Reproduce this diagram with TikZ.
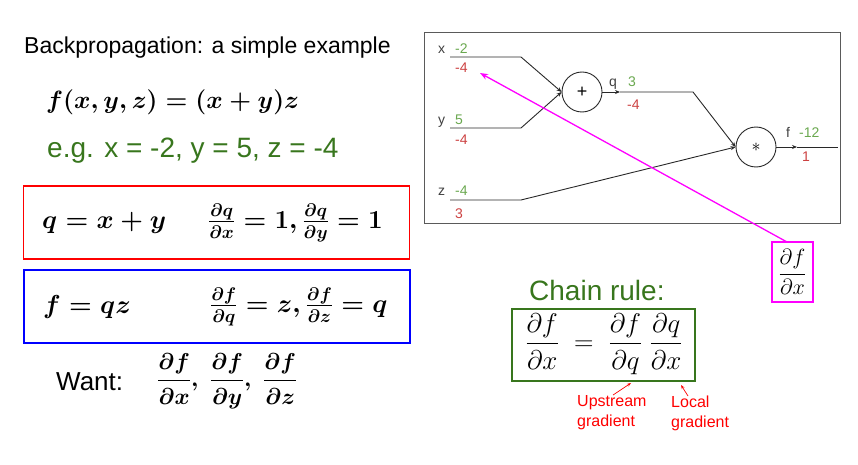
\RequirePackage{fix-cm}
\documentclass[tikz,border=0pt]{standalone}
\usepackage{amsmath}
\usepackage{fontspec}
\newfontfamily\arial{Liberation Sans}
\usetikzlibrary{arrows.meta}
\definecolor{dgreen}{RGB}{56,118,29}
\definecolor{gval}{RGB}{106,168,79}
\definecolor{rval}{RGB}{204,65,65}
\definecolor{wirec}{RGB}{40,40,40}
\definecolor{boxgray}{RGB}{90,90,90}
\definecolor{mag}{RGB}{255,0,255}
\begin{document}
\begin{tikzpicture}[x=1pt,y=-1pt,
  lbl/.style={font=\arial\fontsize{14}{14}\selectfont, inner sep=0pt, anchor=base west},
  glbl/.style={lbl, text=gval},
  rlbl/.style={lbl, text=rval},
  wire/.style={draw=wirec, line width=0.9pt},
  wtip/.style={wire, -{Stealth[length=5pt,width=4pt]}},
  opnode/.style={circle, draw=wirec, line width=0.9pt, minimum size=40pt, inner sep=0pt, font=\arial\fontsize{18}{18}\selectfont},
  eqbox/.style={draw, line width=1.4pt, minimum width=386pt, minimum height=73pt, inner sep=0pt},
  mathtxt/.style={inner sep=0pt, anchor=west, font=\fontsize{26}{30}\selectfont\boldmath},
  sans/.style={inner sep=0pt, anchor=west},
  redlbl/.style={inner sep=0pt, anchor=west, align=left, text=red, font=\arial\fontsize{16}{20}\selectfont},
  redarr/.style={draw=red, line width=0.7pt, -{Stealth[length=4pt,width=3pt]}}
]
\useasboundingbox (0,0) rectangle (858,465);

% ---------- left column ----------
\node[sans, font=\arial\fontsize{23}{26}\selectfont] (title) at (24,48) {Backpropagation: a simple example};
\node[mathtxt, font=\fontsize{25}{30}\selectfont\boldmath] (func) at (46,102) {$f(x,y,z)=(x+y)z$};
\node[sans, text=dgreen, font=\arial\fontsize{28}{32}\selectfont] (eg) at (47,151) {e.g. x = -2, y = 5, z = -4};

\node[eqbox, draw=red] (redbox) at (216.5,222.5) {};
\node[mathtxt] (qdef) at (42,223) {$q=x+y$};
\node[mathtxt] (qder) at (208,223) {$\frac{\partial q}{\partial x}=1,\frac{\partial q}{\partial y}=1$};

\node[eqbox, draw=blue] (bluebox) at (217,306.5) {};
\node[mathtxt] (fdef) at (43,307) {$f=qz$};
\node[mathtxt] (fder) at (210,307) {$\frac{\partial f}{\partial q}=z,\frac{\partial f}{\partial z}=q$};

\node[sans, font=\arial\fontsize{26}{30}\selectfont] (want) at (56,382) {Want:};
\node[mathtxt, font=\fontsize{23}{27}\selectfont\boldmath] (wantf) at (157,381) {$\dfrac{\partial f}{\partial x},\;\dfrac{\partial f}{\partial y},\;\dfrac{\partial f}{\partial z}$};

% ---------- graph ----------
\node[draw=boxgray, line width=0.9pt, anchor=north west, minimum width=416pt, minimum height=191pt, inner sep=0pt] (gbox) at (424,32) {};

\node[opnode] (plus) at (582,92) {+};
\node[opnode] (times) at (756,147) {$\ast$};

\coordinate (xs) at (450,57);  \coordinate (xb) at (521,57);
\coordinate (ys) at (450,128); \coordinate (yb) at (521,128);
\coordinate (zs) at (450,200); \coordinate (zb) at (521,200);
\coordinate (qm) at (620,92);  \coordinate (qb) at (693,92);
\coordinate (fm) at (797,147); \coordinate (fe) at (838,147);

\draw[wtip] (xs) -- (xb) -- (plus.west);
\draw[wtip] (ys) -- (yb) -- (plus.west);
\draw[wtip] (zs) -- (zb) -- (times.west);
\draw[wtip] (plus.east) -- (qm);
\draw[wtip] (qm) -- (qb) -- (times.west);
\draw[wtip] (times.east) -- (fm);
\draw[wire] (fm) -- (fe);

\node[lbl, text=black!75] (xn) at (438,54) {x};
\node[glbl] (xv) at (455,54) {-2};
\node[rlbl] (xg) at (455,73) {-4};
\node[lbl, text=black!75] (yn) at (438,125) {y};
\node[glbl] (yv) at (455,125) {5};
\node[rlbl] (yg) at (455,145) {-4};
\node[lbl, text=black!75] (zn) at (438,195) {z};
\node[glbl] (zv) at (455,195) {-4};
\node[rlbl] (zg) at (455,218) {3};
\node[lbl, text=black!75] (qn) at (609,87) {q};
\node[glbl] (qv) at (628,87) {3};
\node[rlbl] (qg) at (627,110) {-4};
\node[lbl, text=black!75] (fn) at (786,138) {f};
\node[glbl] (fv) at (799,138) {-12};
\node[rlbl] (fg) at (802,161) {1};

% ---------- magenta box ----------
\node[draw=mag, line width=1.4pt, minimum width=41pt, minimum height=60pt, inner sep=0pt,
      font=\fontsize{22}{26}\selectfont] (dbox) at (792.5,272) {$\dfrac{\partial f}{\partial x}$};
\coordinate (dtop) at (787,242);
\coordinate (dtip) at (480,73);
\draw[draw=mag, line width=1.3pt, -{Stealth[length=8pt,width=6pt]}] (dtop) -- (dtip);

% ---------- chain rule ----------
\node[sans, text=dgreen, font=\arial\fontsize{28}{32}\selectfont] (chain) at (529,290) {Chain rule:};
\node[draw=dgreen, line width=1.4pt, minimum width=183pt, minimum height=72pt, inner sep=0pt] (gbox2) at (603.5,345) {};
\node[inner sep=0pt, font=\fontsize{27}{31}\selectfont] (chaineq) at (604,344) {$\dfrac{\partial f}{\partial x} \;=\; \dfrac{\partial f}{\partial q}\;\dfrac{\partial q}{\partial x}$};

\node[redlbl] (up) at (577,413) {Upstream\\gradient};
\node[redlbl] (loc) at (671,413) {Local\\gradient};
\coordinate (ua) at (613,395); \coordinate (ub) at (631,383);
\coordinate (la) at (688,396); \coordinate (lb) at (681,385);
\draw[redarr] (ua) -- (ub);
\draw[redarr] (la) -- (lb);
\end{tikzpicture}
\end{document}
